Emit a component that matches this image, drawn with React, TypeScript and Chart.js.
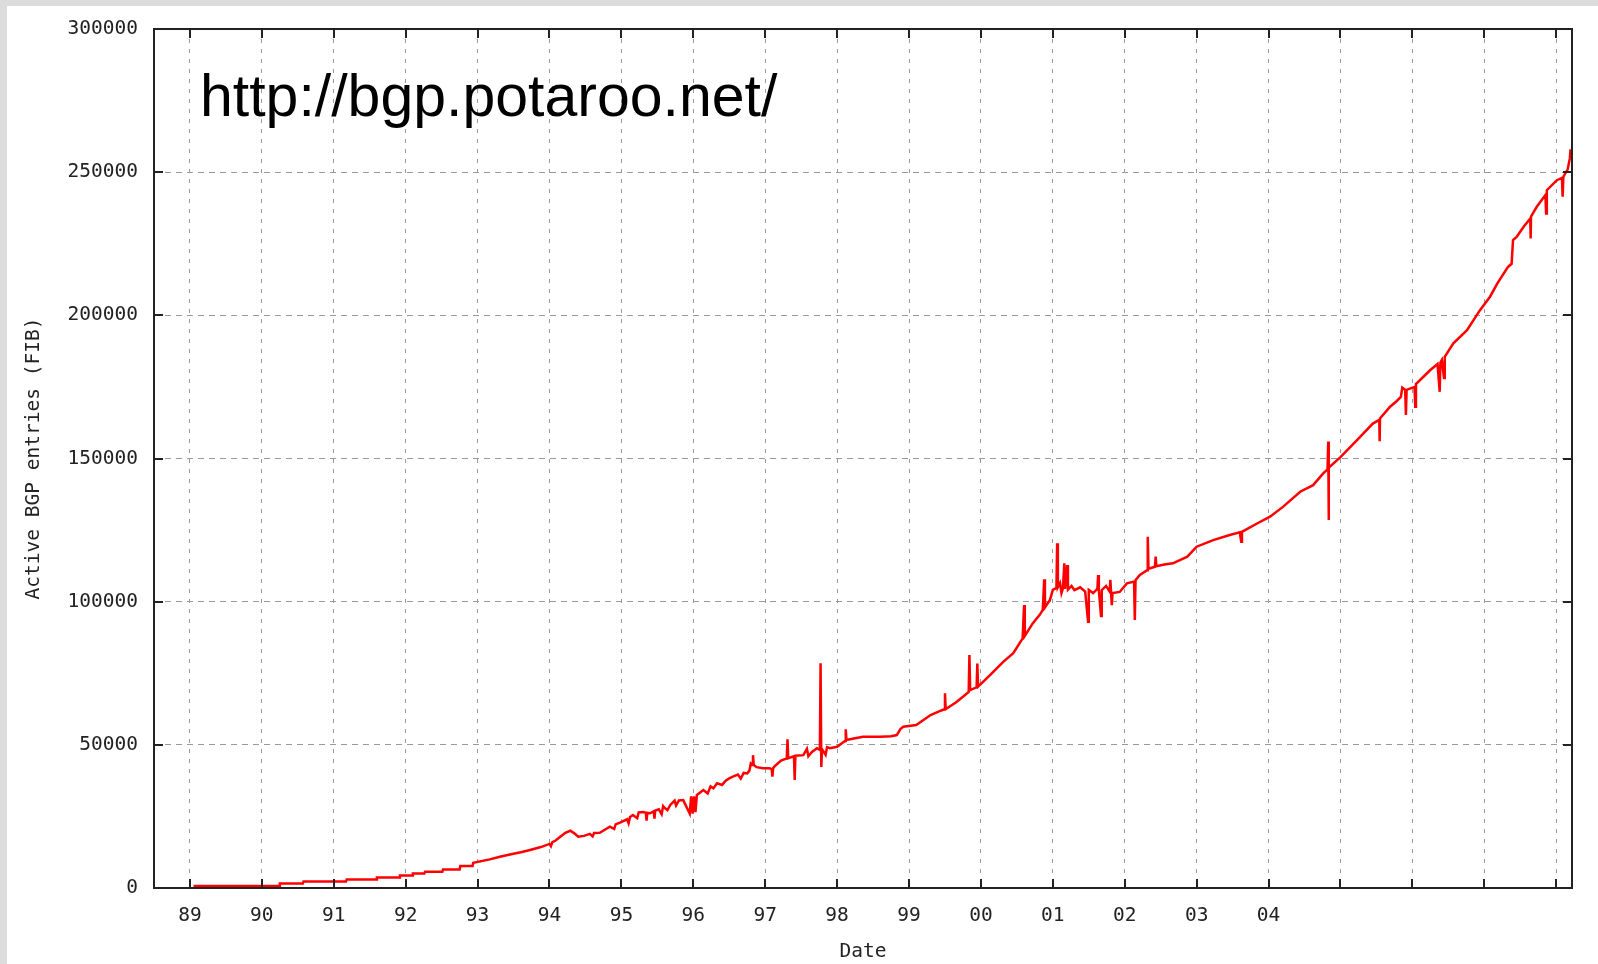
import React, { useEffect, useRef } from "react";
import { Chart, registerables } from "chart.js";

Chart.register(...registerables);

// ---- data (year, active BGP entries) ----
const bgp1989to1994: [number, number][] = [
  [1989.05, 700], [1990.24, 700], [1990.25, 1600], [1990.57, 1600], [1990.58, 2300],
  [1991.17, 2300], [1991.18, 3000], [1991.59, 3000], [1991.6, 3700], [1991.91, 3700],
  [1991.92, 4400], [1992.09, 4400], [1992.1, 5100], [1992.26, 5100], [1992.27, 5700],
  [1992.51, 5700], [1992.52, 6500], [1992.75, 6500], [1992.76, 7700], [1992.93, 7700],
  [1992.94, 8800], [1993.17, 10000], [1993.31, 10900], [1993.45, 11700], [1993.6, 12500],
  [1993.73, 13300], [1993.88, 14300], [1994.0, 15400], [1994.02, 14600], [1994.04, 16000],
  [1994.08, 16500], [1994.15, 17900], [1994.22, 19300], [1994.29, 20000], [1994.35, 19000],
  [1994.4, 17900], [1994.48, 18200], [1994.56, 18900], [1994.6, 18000], [1994.62, 19200],
  [1994.7, 19300], [1994.78, 20500], [1994.84, 21400], [1994.9, 20600], [1994.92, 22200],
  [1994.98, 22800],
];

const bgp1995to1999: [number, number][] = [
  [1995.08, 24000], [1995.1, 22600], [1995.12, 24800], [1995.16, 25500], [1995.22, 24400],
  [1995.24, 26400], [1995.3, 26500], [1995.34, 26300], [1995.35, 23500], [1995.36, 26200],
  [1995.4, 26100], [1995.45, 26800], [1995.46, 24200], [1995.47, 27000], [1995.52, 27500],
  [1995.56, 25800], [1995.58, 28600], [1995.6, 28000], [1995.64, 27200], [1995.68, 29000],
  [1995.74, 30500], [1995.76, 28800], [1995.8, 30600], [1995.86, 30700], [1995.95, 26000],
  [1995.97, 32000], [1995.99, 26000], [1996.01, 32000], [1996.03, 26500], [1996.05, 32500],
  [1996.14, 34200], [1996.2, 33000], [1996.24, 35500], [1996.28, 34800], [1996.33, 36600],
  [1996.4, 36000], [1996.45, 37500], [1996.5, 38300], [1996.55, 38900], [1996.62, 39600],
  [1996.66, 38200], [1996.7, 40200], [1996.75, 40000], [1996.78, 41000], [1996.8, 43500],
  [1996.82, 43000], [1996.83, 46400], [1996.84, 43000], [1996.88, 42200], [1996.97, 41800],
  [1997.06, 41800], [1997.09, 41500], [1997.1, 38900], [1997.11, 41800], [1997.13, 42500],
  [1997.22, 44500], [1997.3, 45300], [1997.31, 51900], [1997.32, 45300], [1997.4, 46000],
  [1997.41, 37700], [1997.42, 46200], [1997.53, 46400], [1997.58, 48600], [1997.6, 46000],
  [1997.65, 47500], [1997.72, 48800], [1997.76, 48200], [1997.77, 78500], [1997.78, 42300],
  [1997.79, 48500], [1997.84, 46500], [1997.86, 49200], [1997.9, 48800], [1998.0, 49300],
  [1998.08, 50800], [1998.11, 51300], [1998.12, 55400], [1998.13, 51700], [1998.25, 52300],
  [1998.36, 52800], [1998.6, 52800], [1998.75, 53000], [1998.83, 53400], [1998.88, 55500],
  [1998.92, 56300], [1999.1, 56900], [1999.3, 60400], [1999.45, 62000], [1999.49, 62400],
  [1999.5, 68000], [1999.51, 62500], [1999.53, 62800], [1999.65, 64800], [1999.75, 66800],
  [1999.83, 68500], [1999.84, 81400], [1999.85, 69100], [1999.94, 70100], [1999.95, 78400],
  [1999.96, 70300],
];

const bgp2000to2004: [number, number][] = [
  [2000.13, 74400], [2000.31, 79000], [2000.45, 82000], [2000.58, 87200], [2000.6, 98800],
  [2000.61, 88000], [2000.72, 92400], [2000.82, 95500], [2000.86, 97100], [2000.88, 107800],
  [2000.89, 98000], [2000.96, 100600], [2001.0, 104100], [2001.05, 104800], [2001.06, 120400],
  [2001.07, 105000], [2001.1, 106500], [2001.12, 103000], [2001.14, 104600], [2001.16, 113400],
  [2001.17, 104500], [2001.2, 112800], [2001.21, 104200], [2001.26, 105500], [2001.3, 104000],
  [2001.38, 105000], [2001.45, 103500], [2001.49, 93000], [2001.5, 104100], [2001.56, 103000],
  [2001.62, 104500], [2001.63, 109300], [2001.64, 104000], [2001.67, 95000], [2001.68, 104000],
  [2001.74, 105500], [2001.79, 103500], [2001.8, 107600], [2001.81, 103000], [2001.82, 98800],
  [2001.83, 103000], [2001.93, 103400], [2002.03, 106400], [2002.13, 107000], [2002.14, 93600],
  [2002.15, 107500], [2002.21, 109300], [2002.31, 111000], [2002.32, 122700], [2002.33, 111500],
  [2002.42, 112200], [2002.43, 115700], [2002.44, 112400], [2002.55, 113000], [2002.67, 113400],
  [2002.87, 115700], [2003.0, 119200], [2003.23, 121500], [2003.46, 123300], [2003.6, 124200],
  [2003.62, 120900], [2003.63, 124400], [2003.84, 127300], [2004.02, 129700], [2004.2, 133100],
  [2004.44, 138400], [2004.62, 140700], [2004.76, 144800], [2004.82, 146200], [2004.83, 155900],
  [2004.835, 128500], [2004.84, 146800],
];

const bgp2005to2008: [number, number][] = [
  [2005.0, 150500], [2005.23, 156400], [2005.45, 162200], [2005.54, 163500], [2005.545, 156000],
  [2005.55, 164000], [2005.69, 168100], [2005.78, 170000], [2005.84, 171500], [2005.86, 174800],
  [2005.9, 174000], [2005.91, 165200], [2005.92, 174000], [2006.03, 175000], [2006.04, 168100],
  [2006.05, 176000], [2006.25, 180900], [2006.35, 183000], [2006.38, 173300], [2006.39, 183500],
  [2006.41, 184400], [2006.44, 178100], [2006.45, 185500], [2006.57, 190200], [2006.76, 194800],
  [2006.94, 201800], [2007.08, 206500], [2007.18, 211100], [2007.33, 216900], [2007.38, 218000],
  [2007.4, 226300], [2007.45, 227400], [2007.55, 231000], [2007.64, 233800], [2007.645, 226800],
  [2007.65, 234500], [2007.73, 237900], [2007.85, 242000], [2007.86, 235600], [2007.87, 243700],
  [2008.01, 247200], [2008.08, 248000], [2008.09, 241400], [2008.1, 248400], [2008.16, 251000],
  [2008.19, 254800], [2008.2, 258000],
];

const xTickYears = [
  1989, 1990, 1991, 1992, 1993, 1994, 1995, 1996, 1997, 1998,
  1999, 2000, 2001, 2002, 2003, 2004, 2005, 2006, 2007, 2008,
];
const xTickLabels = [
  "89", "90", "91", "92", "93", "94", "95", "96", "97", "98",
  "99", "00", "01", "02", "03", "04", "", "", "", "",
];
const yTickValues = [0, 50000, 100000, 150000, 200000, 250000, 300000];
const yTickLabels = ["0", "50000", "100000", "150000", "200000", "250000", "300000"];

const xTitle = "Date";
const yTitle = "Active BGP entries (FIB)";
const urlLabel = "http://bgp.potaroo.net/";

const X_MIN = 1988.5;
const X_MAX = 2008.22;
const Y_MIN = 0;
const Y_MAX = 300000;

const MONO = '"DejaVu Sans Mono", "Liberation Mono", monospace';
const TEXT = "#222222";

export default function App() {
  const ref = useRef<HTMLCanvasElement>(null);

  useEffect(() => {
    document.body.style.margin = "0";
    document.body.style.overflow = "hidden";
    const canvas = ref.current;
    if (!canvas) return;

    const points = [...bgp1989to1994, ...bgp1995to1999, ...bgp2000to2004, ...bgp2005to2008].map(
      ([x, y]) => ({ x, y })
    );

    const framePlugin = {
      id: "gnuplotFrame",
      afterDatasetsDraw(chart: any) {
        const { ctx, chartArea: a, scales } = chart;
        ctx.save();
        ctx.strokeStyle = TEXT;
        ctx.lineWidth = 2;
        ctx.beginPath();
        xTickYears.forEach((v) => {
          const px = Math.round(scales.x.getPixelForValue(v));
          ctx.moveTo(px, a.bottom);
          ctx.lineTo(px, a.bottom - 9);
          ctx.moveTo(px, a.top);
          ctx.lineTo(px, a.top + 9);
        });
        yTickValues.forEach((v) => {
          const py = Math.round(scales.y.getPixelForValue(v));
          ctx.moveTo(a.left, py);
          ctx.lineTo(a.left + 9, py);
          ctx.moveTo(a.right, py);
          ctx.lineTo(a.right - 9, py);
        });
        ctx.stroke();
        ctx.strokeRect(a.left, a.top, a.right - a.left, a.bottom - a.top);

        ctx.fillStyle = "#000000";
        ctx.font = '59px "Liberation Sans", Arial, sans-serif';
        ctx.textAlign = "left";
        ctx.textBaseline = "alphabetic";
        ctx.fillText(urlLabel, 200, 116);
        ctx.restore();
      },
    };

    const tickFont = { family: MONO, size: 19.5 };

    const chart = new Chart(canvas, {
      type: "line",
      data: {
        datasets: [
          {
            data: points,
            borderColor: "#ff0000",
            borderWidth: 2.5,
            pointRadius: 0,
            tension: 0,
            fill: false,
          },
        ],
      },
      options: {
        responsive: false,
        animation: false,
        devicePixelRatio: 1,
        layout: { padding: { top: 29, right: 26, left: 0, bottom: 0 } },
        plugins: { legend: { display: false }, tooltip: { enabled: false } },
        scales: {
          x: {
            type: "linear",
            min: X_MIN,
            max: X_MAX,
            afterBuildTicks: (s: any) => {
              s.ticks = xTickYears.map((v) => ({ value: v }));
            },
            afterFit: (s: any) => {
              s.height = 76;
            },
            ticks: {
              autoSkip: false,
              maxRotation: 0,
              padding: 16,
              color: TEXT,
              font: tickFont,
              callback: (_v: any, i: number) => xTickLabels[i] ?? "",
            },
            grid: { color: "#9a9a9a", lineWidth: 1, drawTicks: false },
            border: { display: false, dash: [4, 6] },
            title: {
              display: true,
              text: xTitle,
              color: TEXT,
              font: tickFont,
              padding: { top: 0, bottom: 0 },
            },
          },
          y: {
            type: "linear",
            min: Y_MIN,
            max: Y_MAX,
            afterBuildTicks: (s: any) => {
              s.ticks = yTickValues.map((v) => ({ value: v }));
            },
            afterFit: (s: any) => {
              s.width = 154;
            },
            ticks: {
              padding: 16,
              color: TEXT,
              font: tickFont,
              callback: (_v: any, i: number) => yTickLabels[i] ?? "",
            },
            grid: { color: "#9a9a9a", lineWidth: 1, drawTicks: false },
            border: { display: false, dash: [6, 5] },
            title: {
              display: true,
              text: yTitle,
              color: TEXT,
              font: tickFont,
              padding: { top: 22, bottom: 0 },
            },
          },
        },
      },
      plugins: [framePlugin],
    } as any);

    return () => chart.destroy();
  }, []);

  return (
    <div style={{ position: "relative", width: 1598, height: 964, background: "#dcdcdc", overflow: "hidden" }}>
      <div style={{ position: "absolute", left: 7, top: 6, right: 0, bottom: 0, background: "#ffffff" }} />
      <canvas
        ref={ref}
        width={1598}
        height={964}
        style={{ position: "absolute", left: 0, top: 0, display: "block", width: 1598, height: 964 }}
      />
    </div>
  );
}
